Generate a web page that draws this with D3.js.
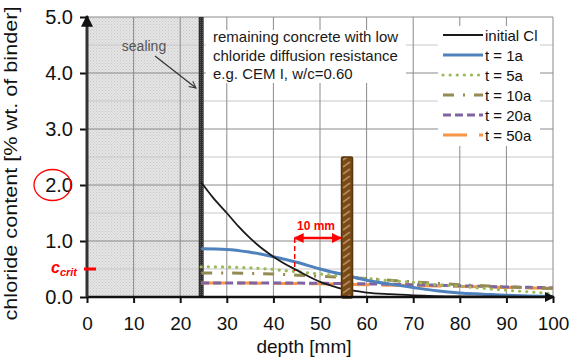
<!DOCTYPE html>
<html>
<head>
<meta charset="utf-8">
<script src="https://cdn.jsdelivr.net/npm/d3@7"></script>
<style>
  body { margin: 0; background: #fff; }
  svg { display: block; font-family: "Liberation Sans", Arial, sans-serif; }
</style>
</head>
<body>
<div id="chart"></div>
<script>
// chloride profiles, depth [mm] vs chloride content [% wt. of binder]
const depthInitial = [24.5, 27, 30, 32.5, 35, 37.5, 40, 42.5, 45, 47.5, 50, 52.5, 55, 57.5, 60, 65, 70, 80, 90, 100];
const initialCl = [2.05, 1.78, 1.5, 1.26, 1.05, 0.87, 0.72, 0.59, 0.48, 0.37, 0.27, 0.2, 0.14, 0.11, 0.08, 0.05, 0.03, 0.01, 0.005, 0.0];

const depth = [24.5, 30, 35, 40, 45, 50, 55, 60, 65, 70, 75, 80, 85, 90, 95, 100];
const t1a = [0.86, 0.85, 0.8, 0.72, 0.62, 0.5, 0.4, 0.3, 0.23, 0.17, 0.11, 0.07, 0.05, 0.03, 0.02, 0.01];
const t5a = [0.54, 0.535, 0.52, 0.49, 0.45, 0.41, 0.37, 0.33, 0.29, 0.26, 0.22, 0.19, 0.155, 0.12, 0.09, 0.06];
const t10a = [0.43, 0.43, 0.42, 0.41, 0.39, 0.37, 0.35, 0.33, 0.3, 0.27, 0.245, 0.22, 0.2, 0.18, 0.165, 0.15];
const t20a = [0.25, 0.25, 0.25, 0.25, 0.248, 0.245, 0.24, 0.235, 0.228, 0.22, 0.21, 0.2, 0.19, 0.18, 0.172, 0.165];
const t50a = [0.25, 0.25, 0.248, 0.245, 0.24, 0.235, 0.228, 0.22, 0.212, 0.205, 0.198, 0.19, 0.18, 0.17, 0.162, 0.155];

const xTicks = [0, 10, 20, 30, 40, 50, 60, 70, 80, 90, 100];
const yTicks = [0, 1, 2, 3, 4, 5];
const sealingDepth = 24.5;
const rebarDepth = 55.8;
const rebarTop = 2.5;
const cCrit = 0.5;
const coverStart = 45;

const series = [
  { name: "initial Cl", x: depthInitial, y: initialCl, color: "#1a1a1a", width: 1.8, dash: null, cap: "butt" },
  { name: "t = 1a", x: depth, y: t1a, color: "#4f81bd", width: 3, dash: null, cap: "butt" },
  { name: "t = 5a", x: depth, y: t5a, color: "#9bbb59", width: 3.2, dash: "0.1 7", cap: "round" },
  { name: "t = 10a", x: depth, y: t10a, color: "#948a54", width: 3, dash: "11 9 2 9", cap: "butt" },
  { name: "t = 20a", x: depth, y: t20a, color: "#8064a2", width: 3, dash: "8 4", cap: "butt" },
  { name: "t = 50a", x: depth, y: t50a, color: "#f79646", width: 3, dash: "24 12", cap: "butt" }
];

const width = 572, height = 358;
const margin = { top: 17, right: 19, bottom: 61, left: 87 };

const x = d3.scaleLinear().domain([0, 100]).range([margin.left, width - margin.right]);
const y = d3.scaleLinear().domain([0, 5]).range([height - margin.bottom, margin.top]);

const svg = d3.select("#chart").append("svg")
  .attr("width", width)
  .attr("height", height);

const defs = svg.append("defs");
// dotted grey fill of the sealed zone
const pat = defs.append("pattern").attr("id", "dots")
  .attr("width", 3).attr("height", 3).attr("patternUnits", "userSpaceOnUse");
pat.append("rect").attr("width", 3).attr("height", 3).attr("fill", "#e4e4e4");
pat.append("rect").attr("width", 1).attr("height", 1).attr("fill", "#c8c8c8");
pat.append("rect").attr("x", 1.5).attr("y", 1.5).attr("width", 1).attr("height", 1).attr("fill", "#cfcfcf");

// rebar hatch
const hatch = defs.append("pattern").attr("id", "rebar")
  .attr("width", 11).attr("height", 7).attr("patternUnits", "userSpaceOnUse");
hatch.append("rect").attr("width", 11).attr("height", 7).attr("fill", "#7a4a14");
hatch.append("path").attr("d", "M2,6 L9,1").attr("stroke", "#b08a60").attr("stroke-width", 1.6);

const sealPat = defs.append("pattern").attr("id", "seal")
  .attr("width", 2).attr("height", 2).attr("patternUnits", "userSpaceOnUse");
sealPat.append("rect").attr("width", 2).attr("height", 2).attr("fill", "#2e2e2e");
sealPat.append("rect").attr("width", 1).attr("height", 1).attr("fill", "#555");

function marker(id, color, open) {
  const m = defs.append("marker").attr("id", id)
    .attr("viewBox", "0 0 10 10").attr("refX", 9).attr("refY", 5)
    .attr("markerWidth", open ? 7 : 4).attr("markerHeight", open ? 7 : 4)
    .attr("markerUnits", "strokeWidth")
    .attr("orient", "auto-start-reverse");
  if (open) {
    m.append("path").attr("d", "M1,1 L9,5 L1,9").attr("fill", "none").attr("stroke", color).attr("stroke-width", 1.2);
  } else {
    m.append("path").attr("d", "M0,0 L10,5 L0,10 Z").attr("fill", color);
  }
}
marker("axisArrow", "#111", false);
marker("openArrow", "#333", true);
marker("redArrow", "#ff0000", false);

// sealed region
svg.append("rect")
  .attr("x", x(0)).attr("y", y(5))
  .attr("width", x(sealingDepth) - x(0))
  .attr("height", y(0) - y(5))
  .attr("fill", "url(#dots)");

// grid
const halfSteps = d3.range(0.5, 5.01, 0.5);
svg.append("g").selectAll("line")
  .data(halfSteps)
  .join("line")
  .attr("x1", x(0)).attr("x2", x(100))
  .attr("y1", d => y(d)).attr("y2", d => y(d))
  .attr("stroke", d => Number.isInteger(d) ? "#8a8a8a" : "#c8c8c8")
  .attr("stroke-width", 1);
svg.append("g").selectAll("line")
  .data(xTicks.slice(1))
  .join("line")
  .attr("x1", d => x(d)).attr("x2", d => x(d))
  .attr("y1", y(0)).attr("y2", y(5))
  .attr("stroke", "#8a8a8a")
  .attr("stroke-width", 1);

// white box behind the annotation text
svg.append("rect")
  .attr("x", 206).attr("y", 30).attr("width", 200).attr("height", 53)
  .attr("fill", "#fff");

// sealing layer
svg.append("rect")
  .attr("x", x(sealingDepth) - 2.5).attr("y", y(5))
  .attr("width", 5).attr("height", y(0) - y(5))
  .attr("fill", "url(#seal)");

// curves
const line = d3.line().curve(d3.curveMonotoneX);
svg.append("g").selectAll("path")
  .data(series.slice().reverse())
  .join("path")
  .attr("d", s => line(s.x.map((d, i) => [x(d), y(s.y[i])])))
  .attr("fill", "none")
  .attr("stroke", s => s.color)
  .attr("stroke-width", s => s.width)
  .attr("stroke-dasharray", s => s.dash)
  .attr("stroke-linecap", s => s.cap);

// rebar
svg.append("rect")
  .attr("x", x(rebarDepth) - 5.5).attr("y", y(rebarTop))
  .attr("width", 11).attr("height", y(0) - y(rebarTop) + 1)
  .attr("rx", 1.5)
  .attr("fill", "url(#rebar)")
  .attr("stroke", "#5a340a").attr("stroke-width", 1.5);

// axes
const xAxis = svg.append("g")
  .attr("transform", `translate(0,${y(0)})`)
  .call(d3.axisBottom(x).tickValues(xTicks).tickSize(6).tickSizeOuter(0).tickFormat(d3.format("d")));
xAxis.select(".domain").remove();
xAxis.selectAll(".tick line").attr("stroke", "#111").attr("stroke-width", 2);
xAxis.selectAll(".tick text")
  .attr("dy", "1.25em")
  .style("font-size", "19px").style("font-family", "Liberation Sans, Arial, sans-serif").attr("fill", "#111");

const yAxis = svg.append("g")
  .attr("transform", `translate(${x(0)},0)`)
  .call(d3.axisLeft(y).tickValues(yTicks).tickSize(7).tickSizeOuter(0).tickFormat(d3.format(".1f")));
yAxis.select(".domain").remove();
yAxis.selectAll(".tick line").attr("stroke", "#111").attr("stroke-width", 2);
yAxis.selectAll(".tick text")
  .attr("x", -14)
  .style("font-size", "20px").style("font-family", "Liberation Sans, Arial, sans-serif").attr("fill", "#111");

svg.append("line")
  .attr("x1", x(0)).attr("x2", x(100) + 1)
  .attr("y1", y(0)).attr("y2", y(0))
  .attr("stroke", "#111").attr("stroke-width", 2.5)
  .attr("marker-end", "url(#axisArrow)");
svg.append("line")
  .attr("x1", x(0)).attr("x2", x(0))
  .attr("y1", y(0)).attr("y2", y(5) - 1)
  .attr("stroke", "#333").attr("stroke-width", 3)
  .attr("marker-end", "url(#axisArrow)");

// axis titles
svg.append("text")
  .attr("transform", `translate(17,${(5 + 322) / 2}) rotate(-90)`)
  .attr("text-anchor", "middle")
  .attr("textLength", 314).attr("lengthAdjust", "spacingAndGlyphs")
  .style("font-size", "19px").attr("fill", "#111")
  .text("chloride content [% wt. of binder]");
svg.append("text")
  .attr("x", 304).attr("y", 353)
  .attr("text-anchor", "middle")
  .style("font-size", "19px").attr("fill", "#111")
  .text("depth [mm]");

// annotation
const note = ["remaining concrete with low", "chloride diffusion resistance", "e.g. CEM I, w/c=0.60"];
svg.append("g").selectAll("text")
  .data(note)
  .join("text")
  .attr("x", 213).attr("y", (d, i) => 42 + i * 18.5)
  .style("font-size", "15px").attr("fill", "#1a1a1a")
  .text(d => d);

// sealing label
svg.append("text")
  .attr("x", 144).attr("y", 51)
  .attr("text-anchor", "middle")
  .style("font-size", "14px").attr("fill", "#555")
  .text("sealing");
svg.append("line")
  .attr("x1", 155).attr("y1", 56).attr("x2", 196).attr("y2", 88)
  .attr("stroke", "#333").attr("stroke-width", 1.2)
  .attr("marker-end", "url(#openArrow)");

// red circle around 2.0
svg.append("ellipse")
  .attr("cx", 52.5).attr("cy", y(2))
  .attr("rx", 18.5).attr("ry", 15.5)
  .attr("fill", "none").attr("stroke", "#ff0000").attr("stroke-width", 1.3);

// c_crit marker
svg.append("line")
  .attr("x1", 84).attr("x2", 96)
  .attr("y1", y(cCrit)).attr("y2", y(cCrit))
  .attr("stroke", "#ff0000").attr("stroke-width", 3);
const cc = svg.append("text")
  .attr("x", 51).attr("y", 273)
  .attr("fill", "#ff0000").style("font-weight", "bold").style("font-style", "italic");
cc.append("tspan").style("font-size", "16px").text("c");
cc.append("tspan").attr("dy", 3).style("font-size", "11px").text("crit");

// 10 mm cover arrow
svg.append("line")
  .attr("x1", x(coverStart) - 2).attr("x2", x(rebarDepth) - 6)
  .attr("y1", 238).attr("y2", 238)
  .attr("stroke", "#ff0000").attr("stroke-width", 2.5)
  .attr("marker-start", "url(#redArrow)")
  .attr("marker-end", "url(#redArrow)");
svg.append("line")
  .attr("x1", x(coverStart) - 2).attr("x2", x(coverStart) - 2)
  .attr("y1", 238).attr("y2", y(cCrit) + 2)
  .attr("stroke", "#ff0000").attr("stroke-width", 1.5)
  .attr("stroke-dasharray", "5 3");
svg.append("text")
  .attr("x", 316).attr("y", 230)
  .attr("text-anchor", "middle")
  .style("font-size", "12px").style("font-weight", "bold").attr("fill", "#ff0000")
  .text("10 mm");

// legend
const legend = svg.append("g").attr("transform", "translate(438,26)");
legend.append("rect").attr("width", 102).attr("height", 120).attr("fill", "#fff");
const items = legend.selectAll("g")
  .data(series)
  .join("g")
  .attr("transform", (d, i) => `translate(0,${9 + i * 20})`);
items.append("line")
  .attr("x1", 5).attr("x2", 45)
  .attr("stroke", d => d.color)
  .attr("stroke-width", d => d.width)
  .attr("stroke-dasharray", d => d.dash)
  .attr("stroke-linecap", d => d.cap);
items.append("text")
  .attr("x", 47).attr("y", 5.5)
  .style("font-size", "15px").attr("fill", "#111")
  .text(d => d.name);
</script>
</body>
</html>
